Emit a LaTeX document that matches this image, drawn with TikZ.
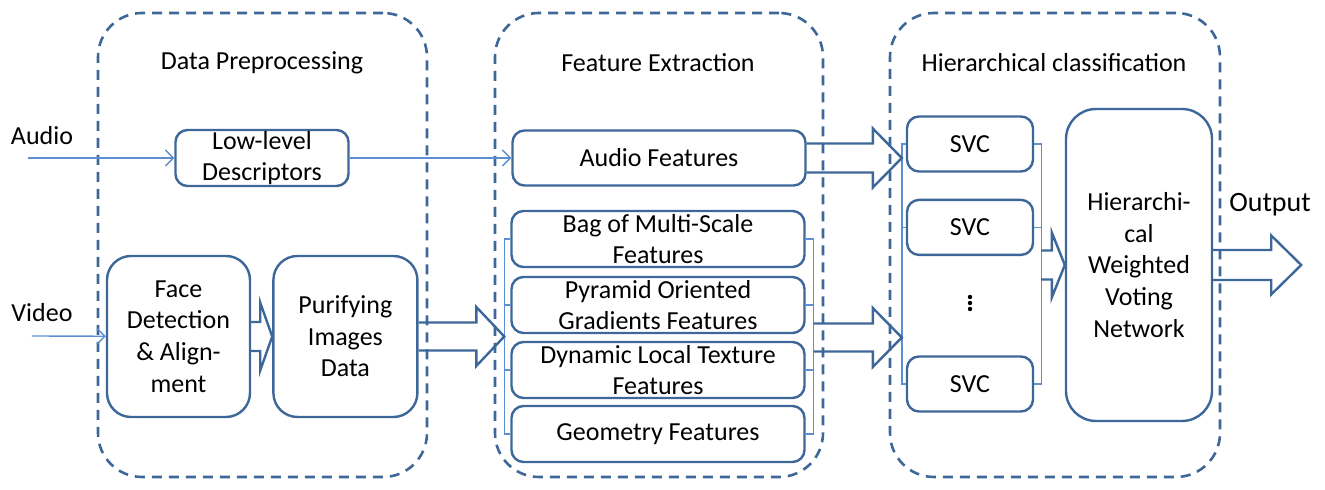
\documentclass[tikz,border=0pt]{standalone}
\usepackage{fontspec}
\setmainfont{Carlito}
\usepackage{xcolor}
\usetikzlibrary{calc}
\usetikzlibrary{arrows.meta}
\usetikzlibrary{positioning}
\definecolor{boxblue}{HTML}{3D6799}
\definecolor{lineblue}{HTML}{5B8FD2}
\tikzstyle{bx}=[draw=boxblue, line width=1.2pt, rounded corners=6pt, align=center,
inner sep=0pt, font=\fontsize{13}{15.8}\selectfont]
\tikzstyle{fbox}=[bx, minimum width=146.5pt, minimum height=28pt]
\tikzstyle{svcbox}=[bx, minimum width=63pt, minimum height=27.5pt]
\tikzstyle{bigbox}=[bx, minimum width=72pt, minimum height=80.5pt, rounded corners=12pt]
\tikzstyle{panel}=[draw=boxblue, line width=1.3pt, dash pattern=on 5pt off 3.5pt,
rounded corners=22pt, minimum height=232pt]
\tikzstyle{conn}=[draw=lineblue, line width=0.7pt]
\tikzstyle{thinarr}=[conn, -{Straight Barb[length=4pt,width=8pt]}]
\tikzstyle{fatarr}=[draw=boxblue, line width=1.2pt, line join=miter]
\tikzstyle{lbl}=[font=\fontsize{13}{15.8}\selectfont]
\newcommand{\fatarrow}[5]{\draw[fatarr] let \p1=(#1), \p2=(#2) in
(\x1,\y1+#3) -- (\x2-#5,\y1+#3) -- (\x2-#5,\y1+#4) -- (\x2,\y1)
-- (\x2-#5,\y1-#4) -- (\x2-#5,\y1-#3) -- (\x1,\y1-#3);}

\begin{document}
\begin{tikzpicture}[x=0.5pt,y=0.5pt]
\useasboundingbox (0,0) rectangle (1325,490);
\node[panel, minimum width=164.5pt] (pre) at (262.5,245) {};
\node[panel, minimum width=164pt] (fex) at (659,245) {};
\node[panel, minimum width=165pt] (hcl) at (1055,245) {};
\node[lbl] (t1) at (262,427) {Data Preprocessing};
\node[lbl] (t2) at (658,427) {Feature Extraction};
\node[lbl] (t3) at (1054,427) {Hierarchical classification};

\node[lbl] (aud) at (42,354) {Audio};
\node[lbl] (vid) at (42,177) {Video};
\node[lbl, font=\fontsize{14}{16}\selectfont] (outl) at (1270,285) {Output};
\coordinate (ain) at (28,332);
\coordinate (vin) at (32,154);

\node[bx, minimum width=86.5pt, minimum height=28pt] (lld) at (262,332) {Low-level\\Descriptors};
\node[bigbox, minimum width=71.5pt] (face) at (178.5,153.5) {Face\\Detection\\\& Align-\\ment};
\node[bigbox, right=10.5pt of face] (pur) {Purifying\\Images\\Data};

\node[fbox, minimum height=27.5pt] (audf) at (659,332) {Audio Features};
\node[fbox] (bag) at (658,251) {Bag of Multi-Scale\\Features};
\node[fbox] (pyr) at (658,185) {Pyramid Oriented\\Gradients Features};
\node[fbox] (dyn) at (658,120) {Dynamic Local Texture\\Features};
\node[fbox] (geo) at (658,56) {Geometry Features};

\node[svcbox] (svc1) at (970,346) {SVC};
\node[svcbox, below=13pt of svc1] (svc2) {SVC};
\node[minimum size=8pt] (dots) at (970,187) {};
\foreach \d in {-3,0,3} \fill (dots.center) ++(0,\d pt) circle (1.1pt);
\node[svcbox] (svc3) at (970,106) {SVC};
\node[bx, minimum width=73pt, minimum height=156pt, rounded corners=15pt] (hwvn) at (1139,225)
{Hierarchi-\\cal\\Weighted\\Voting\\Network};

% brackets
\draw[conn] (bag.west) -- ++(-3pt,0) |- (geo.west) (pyr.west) -- ++(-3pt,0) (dyn.west) -- ++(-3pt,0);
\draw[conn] (bag.east) -- ++(4pt,0) |- (geo.east) (pyr.east) -- ++(4pt,0) (dyn.east) -- ++(4pt,0);
\draw[conn] (svc1.west) -- ++(-2pt,0) |- (svc3.west) (svc2.west) -- ++(-2pt,0);
\draw[conn] (svc1.east) -- ++(3.5pt,0) |- (svc3.east) (svc2.east) -- ++(3.5pt,0);
\coordinate (lb) at ($(pyr.west)!.5!(dyn.west)+(-3pt,0)$);
\coordinate (rb) at ($(pyr.east)!.5!(dyn.east)+(4pt,0)$);
\coordinate (sl) at ($(svc1.west)+(-2pt,0)$);
\coordinate (sr) at ($(svc1.east)+(3.5pt,0)$);
\coordinate (sa) at (sl |- audf.east);
\coordinate (sv) at (sl |- rb);
\coordinate (sh) at (sr |- hwvn.west);
\coordinate (out) at ($(hwvn.east)+(44pt,0)$);

% thin arrows
\draw[thinarr] (ain) -- (lld);
\draw[thinarr] (lld) -- (audf);
\draw[thinarr] (vin) -- (face);

% block arrows
\fatarrow{face.east}{pur.west}{7.25pt}{17pt}{6pt}
\fatarrow{pur.east}{lb}{7pt}{14.75pt}{14pt}
\fatarrow{audf.east}{sa}{7.25pt}{14.75pt}{14.5pt}
\fatarrow{rb}{sv}{7pt}{14.75pt}{14.5pt}
\fatarrow{sh}{hwvn.west}{7.25pt}{16.25pt}{6.5pt}
\fatarrow{hwvn.east}{out}{7.5pt}{14.75pt}{15pt}
%\draw[help lines] (0,0) grid[step=50] (1325,490);
\end{tikzpicture}
\end{document}
